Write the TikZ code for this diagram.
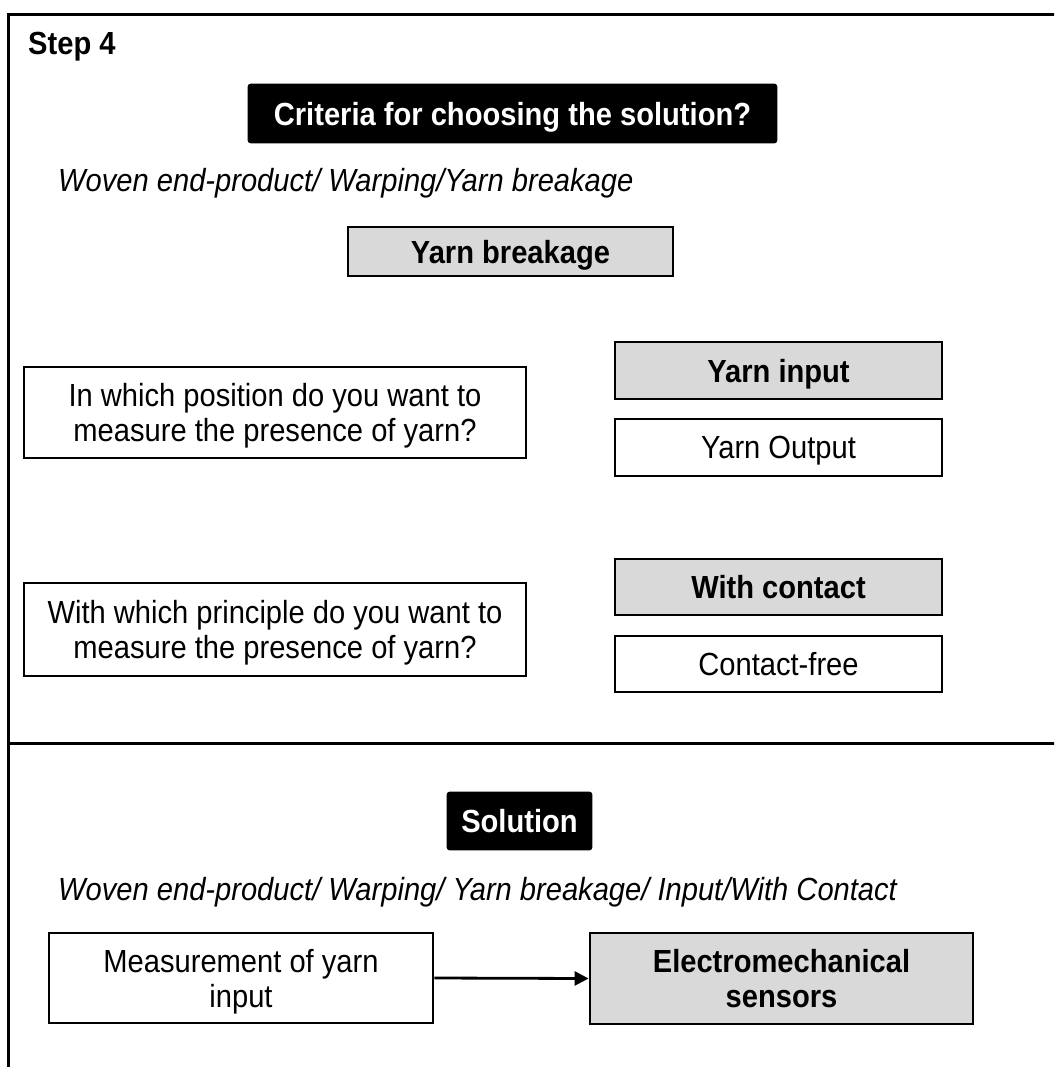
\documentclass[tikz,border=0pt]{standalone}
\usepackage{fontspec}
\setmainfont{Liberation Sans}[FakeStretch=0.91]
\usetikzlibrary{arrows.meta}
\definecolor{boxgray}{RGB}{217,217,217}
\newcommand{\reffont}{\fontsize{32}{35}\selectfont}
\tikzset{
  base/.style={draw=black, line width=2.8pt, inner sep=0pt, align=center,
    text depth=0pt, font=\reffont},
  whitebox/.style={base, fill=white},
  graybox/.style={base, fill=boxgray, font=\reffont\bfseries},
  blackbox/.style={base, fill=black, text=white, rounded corners=2pt,
    font=\reffont\bfseries},
  plain/.style={inner sep=0pt, font=\reffont},
  frameline/.style={line width=3pt},
  conn/.style={line width=2.8pt, -{Triangle[length=14pt,width=14pt]}}
}
\begin{document}
\begin{tikzpicture}[x=1pt,y=-1pt]
\useasboundingbox (0,0) rectangle (1054,1067);
\begin{scope}
\clip (0,0) rectangle (1054,1067);
\draw[frameline] (8,1070) -- (8,15) -- (1060,15);
\draw[frameline] (8,743) -- (1060,743);
\end{scope}

\node[plain, anchor=base west, font=\reffont\bfseries] (step) at (28,55) {Step 4};
\node[blackbox, minimum width=527pt, minimum height=57pt] (crit) at (512.5,113.5) {Criteria for choosing the solution?};
\node[plain, anchor=base west, font=\reffont\itshape] (path1) at (58,192) {Woven end-product/ Warping/Yarn breakage};
\node[graybox, minimum width=325pt, minimum height=49pt] (ybreak) at (510.5,251.5) {Yarn breakage};

\node[whitebox, minimum width=502pt, minimum height=91pt] (q1) at (275,412.5) {In which position do you want to\\measure the presence of yarn?};
\node[graybox, minimum width=327pt, minimum height=57pt] (yin) at (778.5,370.5) {Yarn input};
\node[whitebox, minimum width=327pt, minimum height=57pt] (yout) at (778.5,447.5) {Yarn Output};

\node[whitebox, minimum width=502pt, minimum height=93pt] (q2) at (275,629.5) {With which principle do you want to\\measure the presence of yarn?};
\node[graybox, minimum width=327pt, minimum height=56pt] (wc) at (778.5,587) {With contact};
\node[whitebox, minimum width=327pt, minimum height=56pt] (cf) at (778.5,664) {Contact-free};

\node[blackbox, minimum width=143pt, minimum height=56pt] (sol) at (519.5,821) {Solution};
\node[plain, anchor=base west, font=\reffont\itshape] (path2) at (58,900) {Woven end-product/ Warping/ Yarn breakage/ Input/With Contact};

\node[whitebox, minimum width=384pt, minimum height=90pt] (meas) at (241,978) {Measurement of yarn\\input};
\node[graybox, minimum width=383pt, minimum height=91pt] (elec) at (781.5,978.5) {Electromechanical\\sensors};
\draw[conn] (meas.east) -- (elec.west);
\end{tikzpicture}
\end{document}
